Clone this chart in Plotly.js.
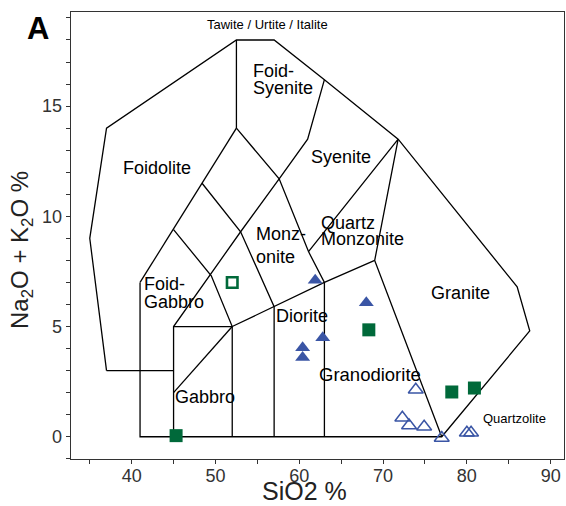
<!DOCTYPE html>
<html>
<head>
<meta charset="utf-8">
<script src="https://cdn.plot.ly/plotly-3.0.1.min.js"></script>
<style>html,body{margin:0;padding:0;background:#fff}#chart{width:566px;height:506px}</style>
</head>
<body>
<div id="chart"></div>
<script>
// ---- Field boundaries (TAS plutonic classification, Middlemost 1994) ----
var outerX = [37, 35, 37, 52.5, 57, 63, 71.8, 86, 87.5, 77, 41, 41];
var outerY = [3, 9, 14, 18, 18, 16.2, 13.5, 6.8, 4.8, 0, 0, 7];
var boundaryLinesX = [
  [37, 45],
  [52.5, 52.5],
  [52.5, 48.4, 45, 41],
  [52.5, 57.6, 61.1, 63, 63],
  [63, 61, 57.6],
  [48.4, 53, 57, 57],
  [57.6, 53, 45, 45],
  [45, 49.5, 52, 52],
  [45, 52],
  [45, 52],
  [52, 57, 63, 69],
  [61.1, 71.8, 69, 77]
];
var boundaryLinesY = [
  [3, 3],
  [18, 14],
  [14, 11.5, 9.4, 7],
  [14, 11.7, 8.4, 7, 0],
  [16.2, 13.5, 11.7],
  [11.5, 9.3, 5.9, 0],
  [11.7, 9.3, 5, 0],
  [9.4, 7.3, 5, 0],
  [5, 5],
  [2, 5],
  [5, 5.9, 7, 8],
  [8.4, 13.5, 8, 0]
];

// ---- Samples ----
var greenFilledSiO2 = [45.3, 68.3, 78.2, 80.9];
var greenFilledAlk  = [0.05, 4.85, 2.03, 2.21];
var greenOpenSiO2 = [52.0];
var greenOpenAlk  = [7.0];
var blueFilledSiO2 = [61.9, 68.0, 62.8, 60.4, 60.4];
var blueFilledAlk  = [7.1, 6.08, 4.49, 4.04, 3.59];
var blueOpenSiO2 = [73.9, 72.3, 73.1, 74.9, 77.0, 80.0, 80.5];
var blueOpenAlk  = [2.13, 0.86, 0.51, 0.45, -0.06, 0.18, 0.18];

// ---- Field labels ----
var fieldLabels = ["Tawite / Urtite / Italite", "Foid-", "Syenite", "Foidolite", "Syenite",
  "Monz-", "onite", "Quartz", "Monzonite", "Foid-", "Gabbro", "Diorite", "Granite",
  "Gabbro", "Granodiorite", "Quartzolite"];
var labelX = [56.15, 54.2, 54.2, 43.0, 61.2, 54.6, 54.6, 62.4, 62.4, 41.2, 41.2, 57.0, 79.26, 44.9, 68.47, 85.71];
var labelY = [18.72, 16.58, 15.84, 12.17, 12.7, 9.19, 8.16, 9.72, 8.96, 6.91, 6.13, 5.5, 6.54, 1.79, 2.81, 0.83];
var labelAnchor = ["center", "left", "left", "center", "left", "left", "left", "left", "left", "left", "left", "left", "center", "left", "center", "center"];
var labelSize = [13, 18, 18, 18, 18, 18, 18, 18, 18, 18, 18, 18, 18, 18, 18.5, 13];

// ---- Titles ----
var panelLabel = "<b>A</b>";
var xTitle = "SiO2 %";
var yTitle = "Na<sub>2</sub>O + K<sub>2</sub>O %";

var FONT = "Liberation Sans, Arial, Helvetica, sans-serif";
var GREEN = "#00693a", BLUE = "#3a55a5";

// Build boundary trace with null separators
var bx = outerX.slice(), by = outerY.slice();
for (var i = 0; i < boundaryLinesX.length; i++) {
  bx.push(null); by.push(null);
  bx = bx.concat(boundaryLinesX[i]); by = by.concat(boundaryLinesY[i]);
}

var traces = [
  {x: bx, y: by, mode: "lines", line: {color: "#000", width: 1.3}, hoverinfo: "skip", connectgaps: false},
  {x: blueOpenSiO2, y: blueOpenAlk, mode: "markers",
   marker: {symbol: "triangle-up-open", size: 13, color: BLUE, line: {color: BLUE, width: 1.5}}},
  {x: blueFilledSiO2, y: blueFilledAlk, mode: "markers",
   marker: {symbol: "triangle-up", size: 13, color: BLUE, line: {width: 0}}},
  {x: greenOpenSiO2, y: greenOpenAlk, mode: "markers",
   marker: {symbol: "square-open", size: 10.5, color: GREEN, line: {color: GREEN, width: 2.6}}},
  {x: greenFilledSiO2, y: greenFilledAlk, mode: "markers",
   marker: {symbol: "square", size: 13, color: GREEN, line: {width: 0}}}
];

var annotations = [];
for (var j = 0; j < fieldLabels.length; j++) {
  annotations.push({
    x: labelX[j], y: labelY[j], xref: "x", yref: "y", text: fieldLabels[j],
    showarrow: false, xanchor: labelAnchor[j], yanchor: "middle",
    font: {family: FONT, size: labelSize[j], color: "#000"}
  });
}
annotations.push({
  x: -0.066, y: 0.964, xref: "paper", yref: "paper", text: panelLabel, showarrow: false,
  xanchor: "center", yanchor: "middle", font: {family: FONT, size: 31, color: "#000"}
});
annotations.push({
  x: 0.4746, y: -0.0705, xref: "paper", yref: "paper", text: xTitle, showarrow: false,
  xanchor: "center", yanchor: "middle", font: {family: FONT, size: 25, color: "#222"}
});
annotations.push({
  x: -0.0994, y: 0.4676, xref: "paper", yref: "paper", text: yTitle, showarrow: false,
  textangle: -90, xanchor: "center", yanchor: "middle", font: {family: FONT, size: 24, color: "#222"}
});

var layout = {
  width: 566, height: 506,
  margin: {l: 71, r: 2, t: 12, b: 47, pad: 0},
  paper_bgcolor: "#fff", plot_bgcolor: "#fff",
  showlegend: false,
  font: {family: FONT, color: "#333"},
  xaxis: {
    range: [32.76, 91.59], dtick: 10, tick0: 40, ticks: "outside", ticklen: 4, tickwidth: 1,
    tickcolor: "#333", showgrid: false, zeroline: false, showline: true, mirror: true,
    linecolor: "#333", linewidth: 1.3, tickfont: {size: 18, color: "#333", family: FONT},
    ticklabelstandoff: -4,
    minor: {dtick: 5, tick0: 35, ticks: "outside", ticklen: 4, tickcolor: "#333", showgrid: false}
  },
  yaxis: {
    range: [-1.01, 19.27], dtick: 5, tick0: 0, ticks: "outside", ticklen: 4, tickwidth: 1,
    tickcolor: "#333", showgrid: false, zeroline: false, showline: true, mirror: true,
    linecolor: "#333", linewidth: 1.3, tickfont: {size: 18, color: "#333", family: FONT},
    minor: {dtick: 1, tick0: 0, ticks: "outside", ticklen: 4, tickcolor: "#333", showgrid: false}
  },
  annotations: annotations
};

Plotly.newPlot("chart", traces, layout, {staticPlot: true, displayModeBar: false});
</script>
</body>
</html>
